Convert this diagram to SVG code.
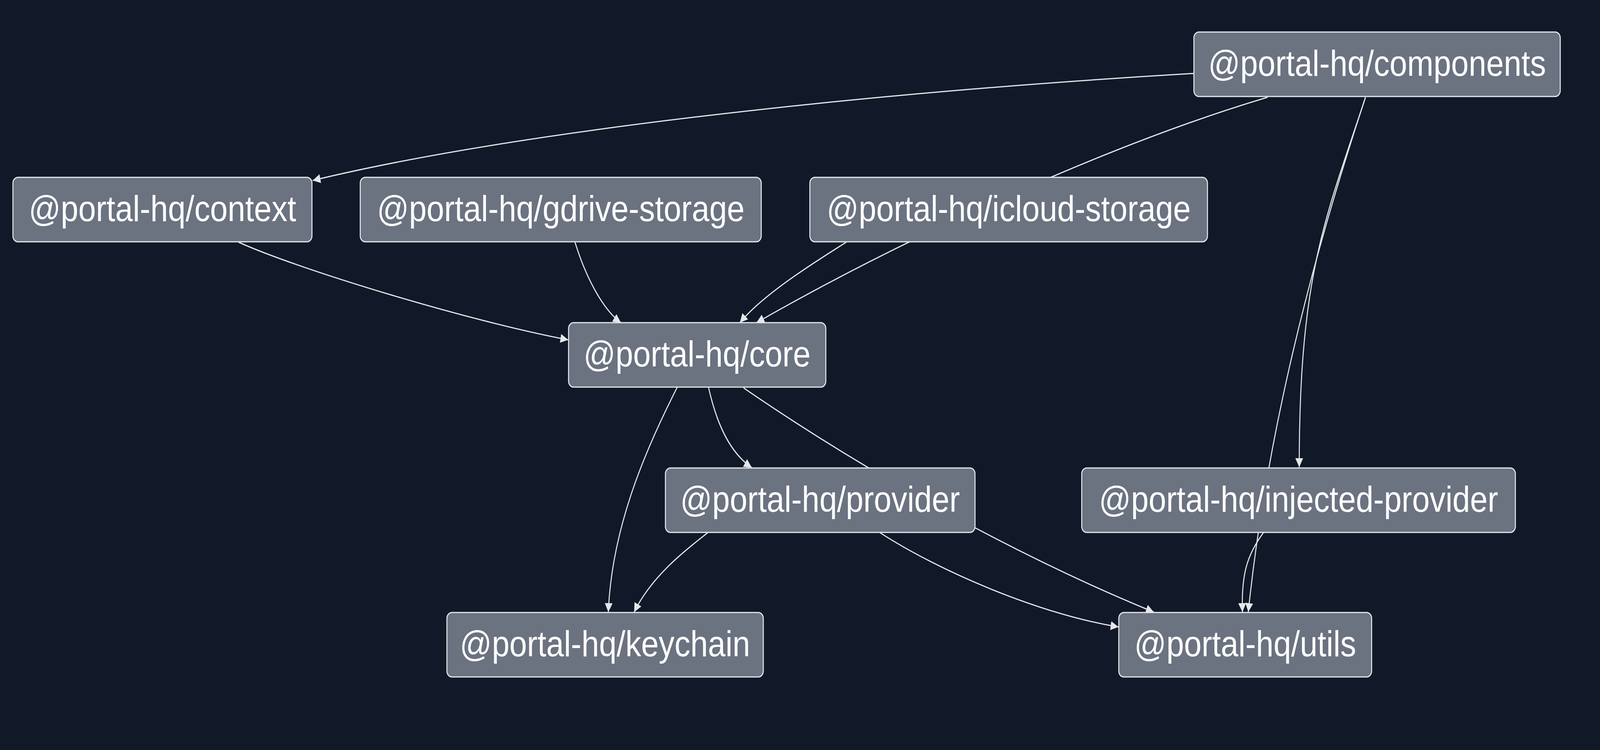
<svg xmlns="http://www.w3.org/2000/svg" width="4708" height="1920" viewBox="0 0 4708 1920" preserveAspectRatio="none" style="width:100vw;height:100vh;background-color:#111827">
<style>
.edge{fill:none;stroke:#e5e7eb;stroke-width:3;marker-end:url(#arrow)}
.node rect{fill:#6b7280;stroke:#e5e7eb;stroke-width:3}
.node text{fill:#ffffff;font-family:"Liberation Sans",Arial,sans-serif;font-size:93px;text-anchor:middle}
</style>
<defs>
<marker id="arrow" viewBox="0 0 10 10" refX="10" refY="5" markerWidth="23" markerHeight="23" markerUnits="userSpaceOnUse" orient="auto">
<path d="M0,0 L10,5 L0,10 z" fill="#e5e7eb"/>
</marker>
</defs>
<rect x="0" y="0" width="4708" height="1920" fill="#111827"/>
<g id="connectors">
<path class="edge" d="M3512,188 C2500,240 1500,340 920,462"/>
<path class="edge" d="M3730,249 C3300,360 2700,590 2226,826"/>
<path class="edge" d="M4018,249 C3900,560 3823,700 3823,1196"/>
<path class="edge" d="M4018,249 C3851,689 3726,1125 3673,1567"/>
<path class="edge" d="M702,620 C880,690 1380,822 1672,870"/>
<path class="edge" d="M1692,620 C1720,700 1770,790 1827,826"/>
<path class="edge" d="M2490,620 C2400,670 2250,750 2177,826"/>
<path class="edge" d="M1993,991 C1900,1150 1800,1350 1790,1567"/>
<path class="edge" d="M2085,992 C2110,1090 2150,1160 2212,1197"/>
<path class="edge" d="M2188,993 C2450,1150 2900,1390 3395,1567"/>
<path class="edge" d="M2082,1364 C2030,1400 1920,1470 1866,1567"/>
<path class="edge" d="M2590,1364 C2760,1460 3050,1570 3291,1605"/>
<path class="edge" d="M3718,1363 C3670,1420 3652,1470 3656,1567"/>
</g>
<g id="node-components" class="node"><rect x="3513" y="82" width="1078" height="165" rx="15"/><text x="4052" y="194">@portal-hq/components</text></g>
<g id="node-context" class="node"><rect x="38" y="454" width="880" height="165" rx="15"/><text x="478" y="566">@portal-hq/context</text></g>
<g id="node-gdrive-storage" class="node"><rect x="1060" y="454" width="1180" height="165" rx="15"/><text x="1650" y="566">@portal-hq/gdrive-storage</text></g>
<g id="node-icloud-storage" class="node"><rect x="2383" y="454" width="1170" height="165" rx="15"/><text x="2968" y="566">@portal-hq/icloud-storage</text></g>
<g id="node-core" class="node"><rect x="1673" y="826" width="757" height="165" rx="15"/><text x="2051" y="938">@portal-hq/core</text></g>
<g id="node-provider" class="node"><rect x="1958" y="1198" width="911" height="165" rx="15"/><text x="2413" y="1310">@portal-hq/provider</text></g>
<g id="node-injected-provider" class="node"><rect x="3183" y="1198" width="1276" height="165" rx="15"/><text x="3821" y="1310">@portal-hq/injected-provider</text></g>
<g id="node-keychain" class="node"><rect x="1315" y="1568" width="931" height="165" rx="15"/><text x="1780" y="1680">@portal-hq/keychain</text></g>
<g id="node-utils" class="node"><rect x="3292" y="1568" width="744" height="165" rx="15"/><text x="3664" y="1680">@portal-hq/utils</text></g>
</svg>
